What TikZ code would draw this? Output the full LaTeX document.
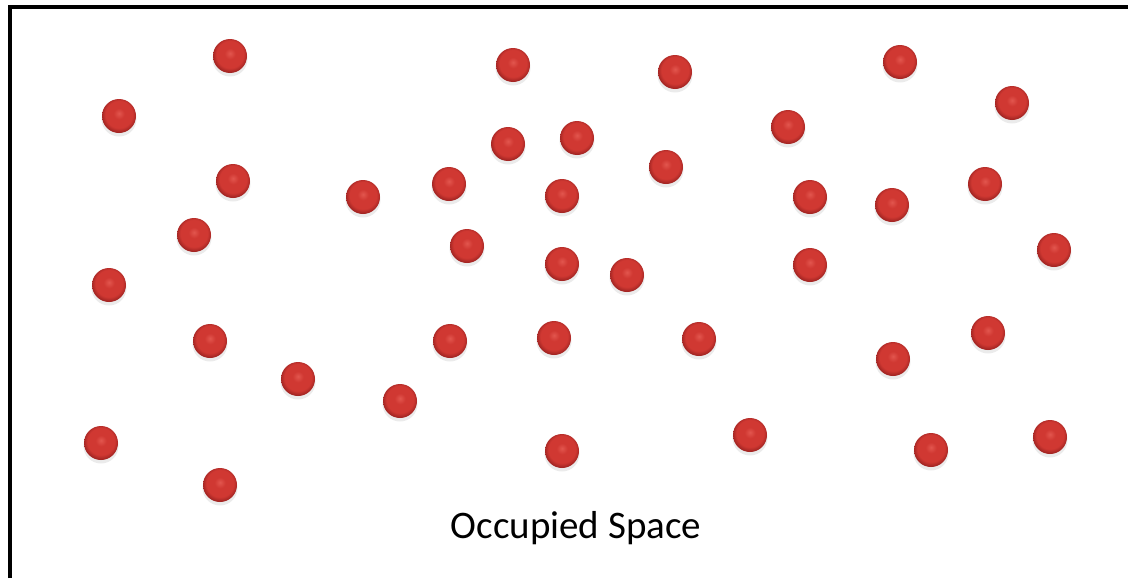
\documentclass[tikz,border=0pt]{standalone}
\usepackage{fontspec}
\setmainfont{Carlito}
\usepackage{tikz}
\usetikzlibrary{positioning}

\definecolor{beadlight}{RGB}{226,86,78}
\definecolor{beadred}{RGB}{208,56,50}
\definecolor{beadrim}{RGB}{160,36,34}
\pgfdeclareradialshading{bead}{\pgfpoint{0bp}{4bp}}{%
  color(0bp)=(beadlight); color(8bp)=(beadred); color(20bp)=(beadred);
  color(26bp)=(beadrim); color(50bp)=(beadrim)}

\begin{document}
\begin{tikzpicture}[x=0.5pt, y=-0.5pt,
    particle/.style={shading=bead},
    particleshadow/.style={fill=black!8}]
  \useasboundingbox (0,0) rectangle (1128,578);
  % frame (only the top and left edges are inside the picture)
  \draw[line width=2pt] (10,578) |- (1128,7);
  % particles
  \foreach \px/\py in {230/56, 513/65, 675/72, 900/62, 119/116, 1012/103,
      788/127, 508/144, 577/138, 233/181, 666/167, 363/197, 449/184,
      562/196, 810/197, 892/205, 985/184, 194/235, 467/246, 1054/250,
      109/285, 562/264, 627/275, 810/265, 210/341, 450/341, 554/338,
      699/339, 893/359, 988/333, 298/379, 400/401, 101/443, 750/435,
      562/451, 931/450, 1050/437, 220/485} {
    \fill[particleshadow] (\px,\py+3) circle (17.5);
    \shade[particle] (\px,\py) circle (17);
  }
  \node[anchor=base, font=\fontsize{19.5}{22}\selectfont] (caption) at (576,538) {Occupied Space};
\end{tikzpicture}
\end{document}
